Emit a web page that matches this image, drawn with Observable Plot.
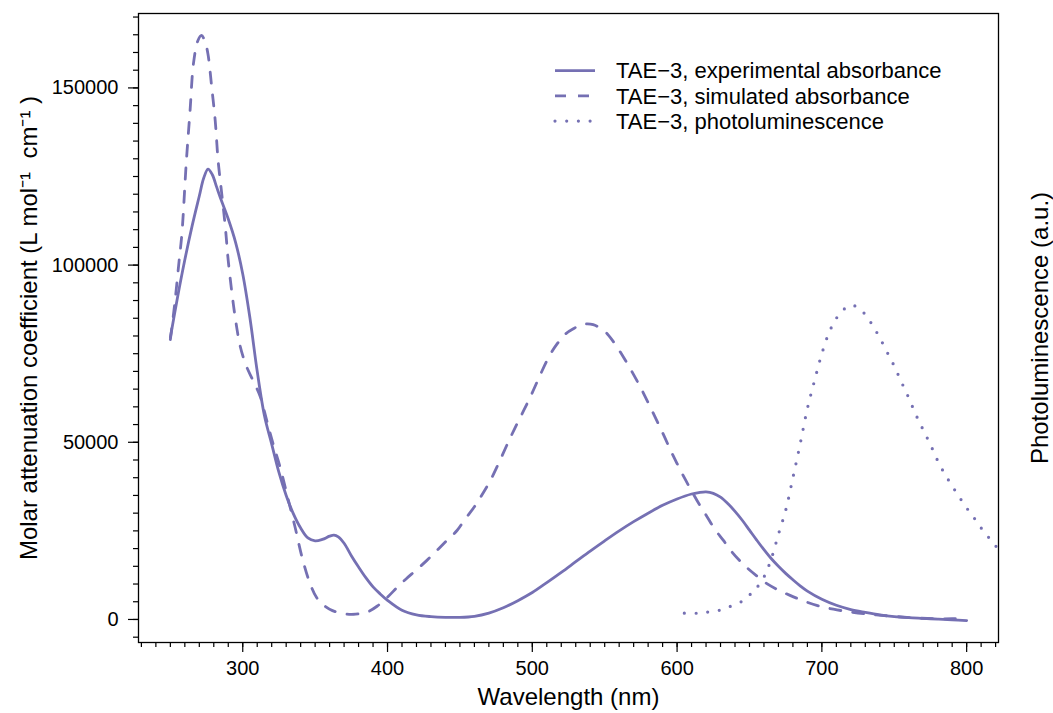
<!DOCTYPE html>
<html>
<head>
<meta charset="utf-8">
<script src="https://cdn.jsdelivr.net/npm/d3@7"></script>
<script src="https://cdn.jsdelivr.net/npm/@observablehq/plot@0.6"></script>
<style>
html, body { margin: 0; padding: 0; background: #fff; }
#wrap { position: relative; width: 1053px; height: 713px; font-family: "Liberation Sans", Arial, Helvetica, sans-serif; }
#legend { position: absolute; left: 0; top: 0; pointer-events: none; }
</style>
</head>
<body>
<div id="wrap"></div>
<script>
// ---------- data ----------
const seriesNames = [
  "TAE\u22123, experimental absorbance",
  "TAE\u22123, simulated absorbance",
  "TAE\u22123, photoluminescence"
];

// experimental absorbance (L mol^-1 cm^-1)
const expWl  = [250,255,260,265,270,273,276,279,282,285,290,295,300,305,310,315,320,325,330,335,340,345,350,355,360,363,366,370,375,380,385,390,395,400,410,420,430,440,450,460,470,480,490,500,510,520,530,540,550,560,570,580,590,600,610,615,620,625,630,635,640,645,650,655,660,665,670,675,680,685,690,700,710,720,730,740,750,760,770,780,790,800];
const expVal = [79600,91000,101500,111000,119500,124500,127100,125500,122000,118500,113000,106500,97500,85000,70000,57500,49500,41500,35000,29800,25800,23000,22200,22600,23500,23800,23300,21500,18000,14800,11800,9200,7200,5400,2600,1300,800,600,600,900,1800,3300,5300,7600,10400,13300,16300,19300,22200,25000,27600,30000,32200,34000,35400,35800,36000,35600,34500,32700,30500,28000,25200,22400,19700,17200,15000,13000,11200,9500,8000,5700,4000,2800,2000,1300,800,500,300,100,-100,-300];

// simulated absorbance (L mol^-1 cm^-1)
const simWl  = [250,253,256,258,261,263.6,266,269,271.5,274,276,278.6,281,283,285.5,288,290,293.5,296,298,302,307,312,316.6,321,326,331,336,341,346,351,356,362,370,378,386,393,400,407,413,420,427,435,441,448,453,460,465,471,477,483,488,494,500,506,512,517,523,529,534,538,542,547,552,557,563,569,575,580,586,591,596,600,605,610,615,621,626,632,637,643,648,655,662,670,678,687,697,708,720,732,743,755,766,778,790,800];
const simVal = [79000,89000,101000,109000,129000,143500,157000,163300,164800,163000,159500,150100,140700,129400,120100,110600,101200,89000,82000,77500,72000,67500,63000,56100,49500,42700,34500,26300,17500,10700,6200,4000,2500,1600,1500,2100,3800,6300,9200,11500,14000,16600,19800,22300,25100,28000,31800,35000,39200,44300,49700,54000,58900,64000,69500,74500,77700,80600,82200,83200,83400,83200,82200,80500,77800,74000,69800,65300,61200,56100,51800,47300,44000,40000,36300,32700,28800,25500,22300,19500,16700,14700,12300,10100,8300,6800,5300,3900,2900,2100,1500,1100,700,400,200,200,200];

// photoluminescence (a.u., normalised to peak = 1)
const plWl  = [605,614,622,630,638,646,652,655,660,665,670,675,680,685,690,695,700,705,710,715,720,725,730,735,740,745,750,755,760,765,770,775,780,785,790,795,800,805,810,815,820,825];
const plVal = [0.020,0.020,0.024,0.030,0.044,0.061,0.087,0.101,0.135,0.192,0.271,0.347,0.451,0.558,0.671,0.761,0.846,0.913,0.958,0.986,1.000,0.992,0.970,0.936,0.896,0.851,0.806,0.755,0.705,0.651,0.603,0.556,0.505,0.462,0.425,0.389,0.355,0.324,0.291,0.262,0.234,0.210];
// secondary (right, unlabelled) axis: 1 a.u. shown at this left-axis height
const plAxisFactor = 88700;

const xMajorTicks = [300, 400, 500, 600, 700, 800];
const xMinorTicks = d3.range(230, 821, 10);
const yMajorTicks = [0, 50000, 100000, 150000];
const yMinorTicks = d3.range(-5000, 170001, 5000);
const xDomain = [228, 822];
const yDomain = [-6500, 171000];

const xTitle = "Wavelength (nm)";
const yTitle = "Molar attenuation coefficient (L mol\u207B\u00B9  cm\u207B\u00B9 )";
const y2Title = "Photoluminescence (a.u.)";

// ---------- build tables ----------
const expData = expWl.map((w, i) => ({wl: w, v: expVal[i]}));
const simData = simWl.map((w, i) => ({wl: w, v: simVal[i]}));
const plData  = plWl.map((w, i) => ({wl: w, v: plVal[i] * plAxisFactor}));

const color = "#7570b3";
const lw = 2.8;
const curve = "catmull-rom";

const chart = Plot.plot({
  width: 1053,
  height: 713,
  marginLeft: 138,
  marginRight: 55,
  marginTop: 13,
  marginBottom: 71,
  x: {domain: xDomain},
  y: {domain: yDomain},
  style: {fontFamily: "'Liberation Sans', Arial, Helvetica, sans-serif", color: "#000", background: "#fff", overflow: "visible"},
  marks: [
    Plot.axisX(xMinorTicks, {tickSize: 5, fill: "none", strokeWidth: 1.2, label: null}),
    Plot.axisX(xMajorTicks, {tickSize: 10, tickPadding: 8, fontSize: 20, strokeWidth: 1.2, label: null, tickFormat: d3.format("d")}),
    Plot.axisY(yMinorTicks, {tickSize: 5, fill: "none", strokeWidth: 1.2, label: null}),
    Plot.axisY(yMajorTicks, {tickSize: 10, tickPadding: 10, fontSize: 20, strokeWidth: 1.2, label: null, tickFormat: d3.format("d")}),
    Plot.line(expData, {x: "wl", y: "v", stroke: color, strokeWidth: lw, curve}),
    Plot.line(simData, {x: "wl", y: "v", stroke: color, strokeWidth: lw, curve, strokeDasharray: "11,12"}),
    Plot.line(plData, {x: "wl", y: "v", stroke: color, strokeWidth: 3.2, curve, strokeDasharray: "0,11.7", strokeLinecap: "round", clip: true}),
    Plot.frame({stroke: "#000", strokeWidth: 1.3}),
    Plot.text([xTitle], {text: d => d, frameAnchor: "bottom", textAnchor: "middle", dy: 62, fontSize: 24, fill: "#000"}),
    Plot.text([yTitle], {text: d => d, frameAnchor: "left", textAnchor: "middle", rotate: -90, dx: -109, fontSize: 24, fill: "#000"}),
    Plot.text([y2Title], {text: d => d, frameAnchor: "right", textAnchor: "middle", rotate: -90, dx: 42, fontSize: 24, fill: "#000"})
  ]
});

const wrap = document.getElementById("wrap");
wrap.appendChild(chart);

// ---------- legend overlay ----------
const leg = d3.select(wrap).append("svg")
  .attr("id", "legend")
  .attr("width", 1053).attr("height", 713);
const dashes = [null, "11,12", "0,11.7"];
const widths = [lw, lw, 3.2];
seriesNames.forEach((name, i) => {
  const yLine = 70.7 + 25.2 * i;
  leg.append("line")
    .attr("x1", 555).attr("x2", i === 2 ? 592 : 595)
    .attr("y1", yLine).attr("y2", yLine)
    .attr("stroke", color).attr("stroke-width", widths[i])
    .attr("stroke-dasharray", dashes[i])
    .attr("stroke-linecap", i === 2 ? "round" : "butt");
  leg.append("text")
    .attr("x", 616).attr("y", 78.3 + 25.2 * i)
    .attr("font-size", 22)
    .attr("font-family", "'Liberation Sans', Arial, Helvetica, sans-serif")
    .attr("fill", "#000")
    .text(name);
});
</script>
</body>
</html>
